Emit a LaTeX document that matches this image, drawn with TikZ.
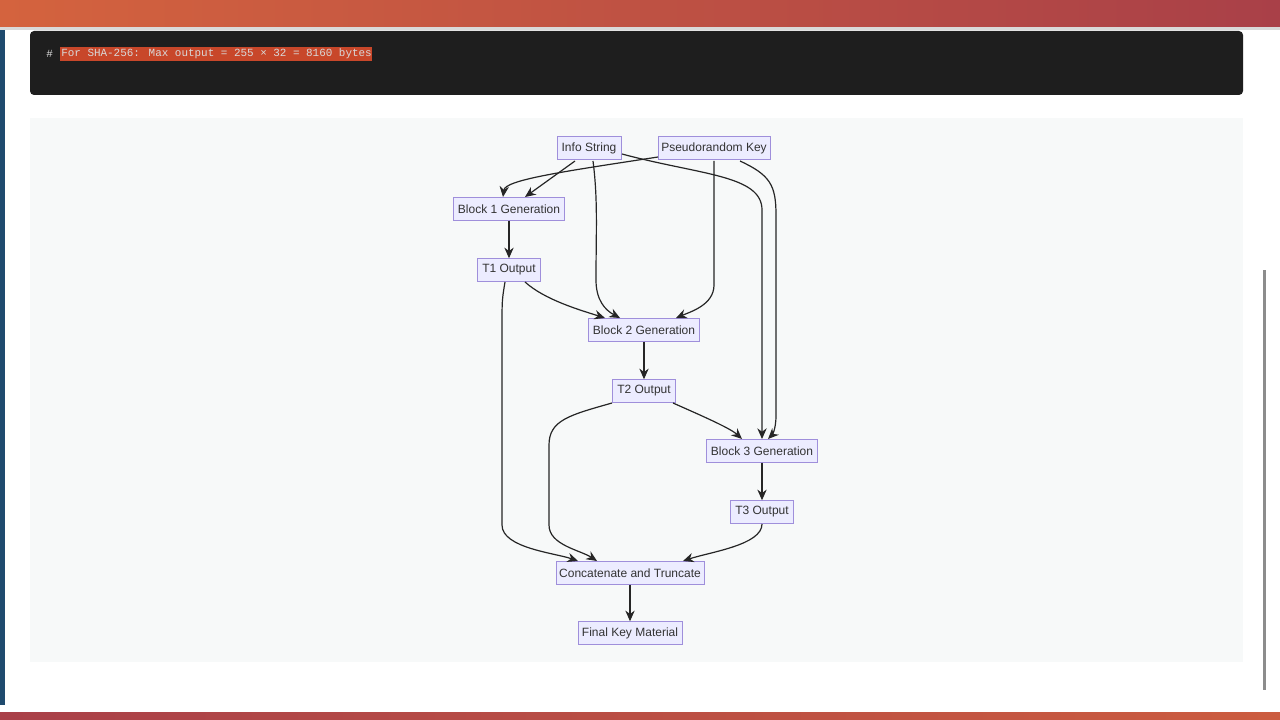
\documentclass[tikz,border=0pt]{standalone}
\usepackage{fontspec}
\setmainfont{Liberation Sans}
\newfontfamily\codefont{Liberation Mono}
\usetikzlibrary{arrows.meta}
\definecolor{nfill}{HTML}{ECECFF}
\definecolor{ndraw}{HTML}{9F8FDB}
\definecolor{barA}{HTML}{D4633E}
\definecolor{barB}{HTML}{A94048}
\definecolor{codebg}{HTML}{1E1E1E}
\definecolor{hl}{HTML}{C8472A}
\definecolor{diabg}{HTML}{F7F9F9}
\definecolor{strip}{HTML}{1F4A6E}
\begin{document}
\begin{tikzpicture}[x=0.75pt,y=-0.75pt,
  box/.style={draw=ndraw,fill=nfill,line width=0.6pt,inner sep=0pt,minimum height=17pt,font=\fontsize{9}{10}\selectfont,text=black!80},
  codetext/.style={anchor=west,inner sep=0pt,text=white!85!black,font=\codefont\fontsize{8.2}{9}\selectfont},
  edge/.style={draw=black!85,line width=0.9pt,-{Stealth[length=8pt,width=7pt]}}]
\useasboundingbox (0,0) rectangle (1280,720);
\fill[white] (0,0) rectangle (1280,720);
\shade[left color=barA,right color=barB] (0,0) rectangle (1280,27);
\fill[black!15] (0,27) rectangle (1280,30);
\fill[strip] (0,30) rectangle (5,705);
\fill[codebg,rounded corners=3pt] (30,31) rectangle (1243,95);
\fill[hl] (60,47) rectangle (372,61);
\node[codetext] (hash) at (46,54) {\#};
\node[codetext] (code) at (61,54) {For SHA-256: Max output = 255 × 32 = 8160 bytes};
\fill[diabg] (30,118) rectangle (1243,662);
\fill[black!45] (1263,270) rectangle (1266,690);
\shade[left color=barB,right color=barA!80!barB] (0,712) rectangle (1280,720);

\node[box,minimum width=48pt] (info) at (589,148) {Info String};
\node[box,minimum width=84pt] (prk) at (714,148) {Pseudorandom Key};
\node[box,minimum width=83pt] (b1) at (509,209) {Block 1 Generation};
\node[box,minimum width=47pt] (t1) at (509,270) {T1 Output};
\node[box,minimum width=83pt] (b2) at (644,330) {Block 2 Generation};
\node[box,minimum width=47pt] (t2) at (644,391) {T2 Output};
\node[box,minimum width=83pt] (b3) at (762,451) {Block 3 Generation};
\node[box,minimum width=47pt] (t3) at (762,512) {T3 Output};
\node[box,minimum width=111pt] (cat) at (630,573) {Concatenate and Truncate};
\node[box,minimum width=78pt] (fin) at (630,633) {Final Key Material};

\draw[edge] (575,161) -- (525,197);
\draw[edge] (658,157) .. controls (560,172) and (505,180) .. (503,197);
\draw[edge] (593,161) .. controls (598,200) and (596,230) .. (596,280) .. controls (596,300) and (605,310) .. (620,318);
\draw[edge] (714,161) -- (714,285) .. controls (714,305) and (690,312) .. (676,318);
\draw[edge] (622,154) .. controls (700,175) and (762,175) .. (762,210) -- (762,439);
\draw[edge] (740,161) .. controls (770,175) and (776,185) .. (776,215) -- (776,415) .. controls (776,430) and (772,435) .. (768,439);
\draw[edge] (b1) -- (t1);
\draw[edge] (525,282) .. controls (545,300) and (580,310) .. (605,318);
\draw[edge] (b2) -- (t2);
\draw[edge] (673,403) .. controls (700,415) and (730,428) .. (742,439);
\draw[edge] (b3) -- (t3);
\draw[edge] (505,282) .. controls (502,300) .. (502,330) -- (502,525) .. controls (502,548) and (555,553) .. (578,561);
\draw[edge] (612,403) .. controls (570,415) and (549,420) .. (549,445) -- (549,525) .. controls (549,545) and (580,550) .. (597,561);
\draw[edge] (762,524) .. controls (762,545) and (710,552) .. (683,561);
\draw[edge] (cat) -- (fin);
\end{tikzpicture}
\end{document}
